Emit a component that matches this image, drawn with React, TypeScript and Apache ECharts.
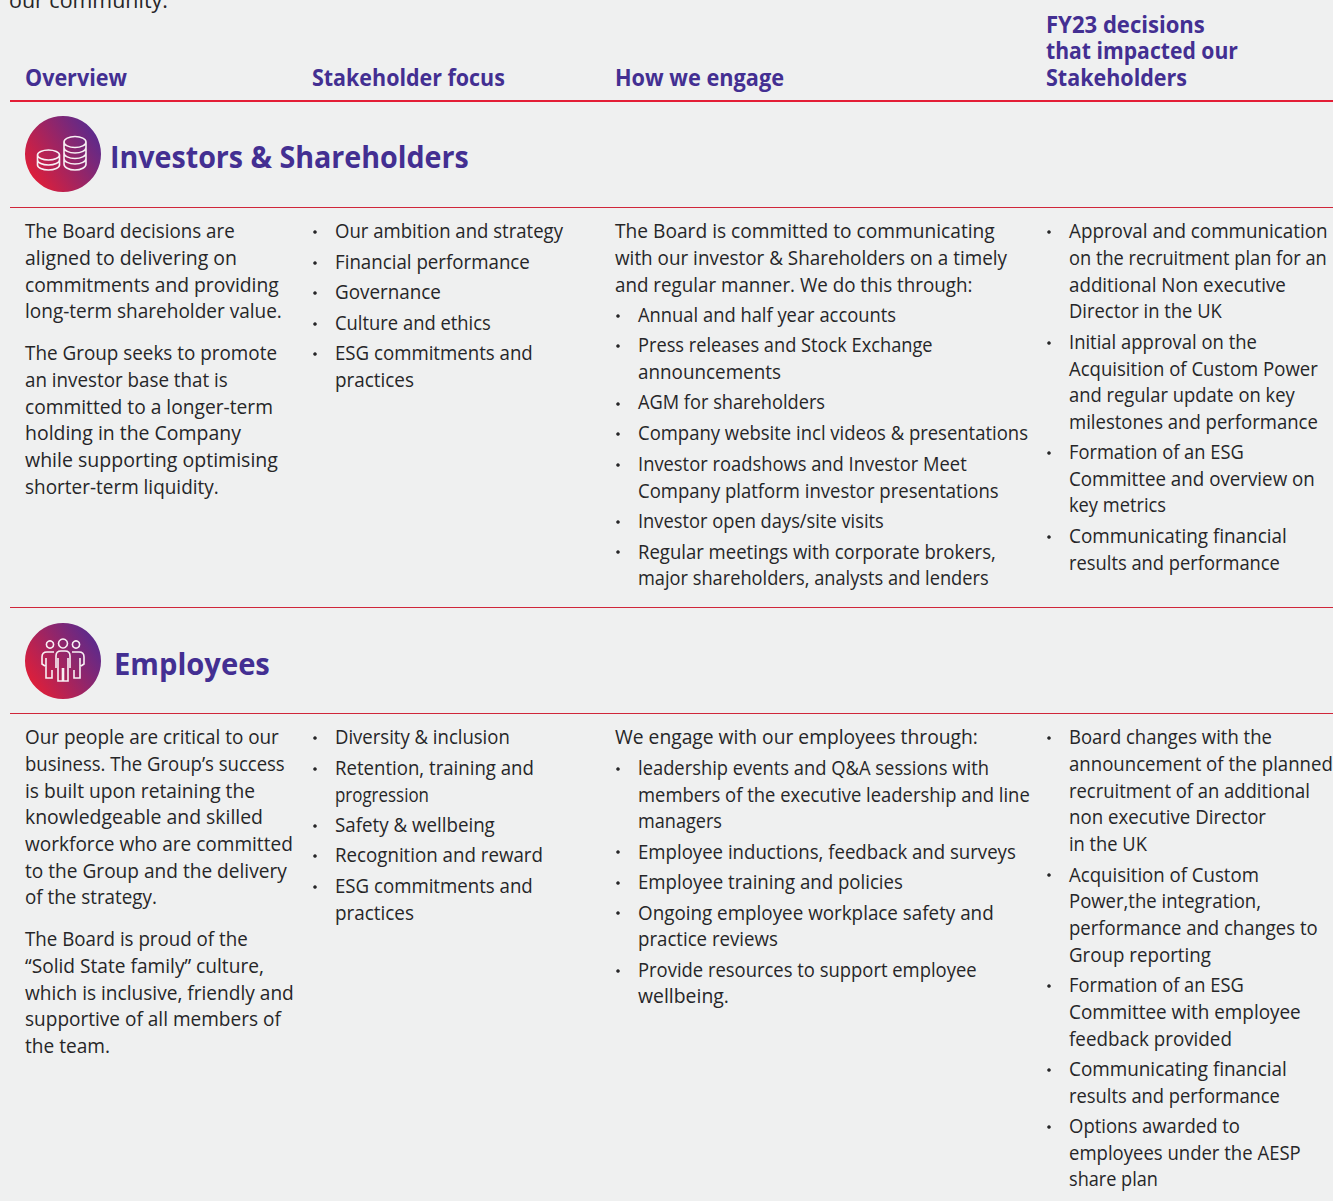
import React, { useEffect, useRef } from "react";
import * as echarts from "echarts";

const introFragment = "our community.";
const columnHeaders = [["Overview"], ["Stakeholder focus"], ["How we engage"], ["FY23 decisions", "that impacted our", "Stakeholders"]];
const sectionTitles = ["Investors & Shareholders", "Employees"];

const investorsOverview = [
  ["The Board decisions are", "aligned to delivering on", "commitments and providing", "long-term shareholder value."],
  ["The Group seeks to promote", "an investor base that is", "committed to a longer-term", "holding in the Company", "while supporting optimising", "shorter-term liquidity."],
];
const investorsFocus = [["Our ambition and strategy"], ["Financial performance"], ["Governance"], ["Culture and ethics"], ["ESG commitments and", "practices"]];
const investorsEngageIntro = ["The Board is committed to communicating", "with our investor & Shareholders on a timely", "and regular manner. We do this through:"];
const investorsEngage = [
  ["Annual and half year accounts"],
  ["Press releases and Stock Exchange", "announcements"],
  ["AGM for shareholders"],
  ["Company website incl videos & presentations"],
  ["Investor roadshows and Investor Meet", "Company platform investor presentations"],
  ["Investor open days/site visits"],
  ["Regular meetings with corporate brokers,", "major shareholders, analysts and lenders"],
];
const investorsDecisions = [
  ["Approval and communication", "on the recruitment plan for an", "additional Non executive", "Director in the UK"],
  ["Initial approval on the", "Acquisition of Custom Power", "and regular update on key", "milestones and performance"],
  ["Formation of an ESG", "Committee and overview on", "key metrics"],
  ["Communicating financial", "results and performance"],
];

const employeesOverview = [
  ["Our people are critical to our", "business. The Group\u2019s success", "is built upon retaining the", "knowledgeable and skilled", "workforce who are committed", "to the Group and the delivery", "of the strategy."],
  ["The Board is proud of the", "\u201CSolid State family\u201D culture,", "which is inclusive, friendly and", "supportive of all members of", "the team."],
];
const employeesFocus = [["Diversity & inclusion"], ["Retention, training and", "progression"], ["Safety & wellbeing"], ["Recognition and reward"], ["ESG commitments and", "practices"]];
const employeesEngageIntro = ["We engage with our employees through:"];
const employeesEngage = [
  ["leadership events and Q&A sessions with", "members of the executive leadership and line", "managers"],
  ["Employee inductions, feedback and surveys"],
  ["Employee training and policies"],
  ["Ongoing employee workplace safety and", "practice reviews"],
  ["Provide resources to support employee", "wellbeing."],
];
const employeesDecisions = [
  ["Board changes with the", "announcement of the planned", "recruitment of an additional", "non executive Director", "in the UK"],
  ["Acquisition of Custom", "Power,the integration,", "performance and changes to", "Group reporting"],
  ["Formation of an ESG", "Committee with employee", "feedback provided"],
  ["Communicating financial", "results and performance"],
  ["Options awarded to", "employees under the AESP", "share plan"],
];

// Layout: right edge of each typeset line, so the narrower reference face can be fitted.
const RIGHT_EDGE: Record<string, number> = {
  "our community.": 168,
  "Overview": 127, "Stakeholder focus": 505, "How we engage": 784, "FY23 decisions": 1205, "that impacted our": 1238, "Stakeholders": 1187,
  "Investors & Shareholders": 469, "Employees": 270,
  "The Board decisions are": 235, "aligned to delivering on": 237, "commitments and providing": 279, "long-term shareholder value.": 282,
  "The Group seeks to promote": 277, "an investor base that is": 228, "committed to a longer-term": 273, "holding in the Company": 241,
  "while supporting optimising": 278, "shorter-term liquidity.": 219,
  "Our ambition and strategy": 563, "Financial performance": 530, "Governance": 441, "Culture and ethics": 491, "ESG commitments and": 533, "practices": 414,
  "The Board is committed to communicating": 995, "with our investor & Shareholders on a timely": 1007, "and regular manner. We do this through:": 973,
  "Annual and half year accounts": 896, "Press releases and Stock Exchange": 933, "announcements": 781, "AGM for shareholders": 825,
  "Company website incl videos & presentations": 1028, "Investor roadshows and Investor Meet": 967, "Company platform investor presentations": 999,
  "Investor open days/site visits": 884, "Regular meetings with corporate brokers,": 996, "major shareholders, analysts and lenders": 989,
  "Approval and communication": 1328, "on the recruitment plan for an": 1327, "additional Non executive": 1286, "Director in the UK": 1222,
  "Initial approval on the": 1257, "Acquisition of Custom Power": 1318, "and regular update on key": 1295, "milestones and performance": 1318,
  "Formation of an ESG": 1244, "Committee and overview on": 1315, "key metrics": 1166, "Communicating financial": 1287, "results and performance": 1280,
  "Our people are critical to our": 279, "business. The Group\u2019s success": 285, "is built upon retaining the": 255, "knowledgeable and skilled": 263,
  "workforce who are committed": 293, "to the Group and the delivery": 287, "of the strategy.": 157, "The Board is proud of the": 248,
  "\u201CSolid State family\u201D culture,": 264, "which is inclusive, friendly and": 294, "supportive of all members of": 281, "the team.": 110,
  "Diversity & inclusion": 510, "Retention, training and": 534, "progression": 429, "Safety & wellbeing": 495, "Recognition and reward": 543,
  "We engage with our employees through:": 978, "leadership events and Q&A sessions with": 989, "members of the executive leadership and line": 1030, "managers": 722,
  "Employee inductions, feedback and surveys": 1016, "Employee training and policies": 903, "Ongoing employee workplace safety and": 994, "practice reviews": 778,
  "Provide resources to support employee": 977, "wellbeing.": 729,
  "Board changes with the": 1272, "announcement of the planned": 1333, "recruitment of an additional": 1310, "non executive Director": 1266, "in the UK": 1147,
  "Acquisition of Custom": 1259, "Power,the integration,": 1261, "performance and changes to": 1318, "Group reporting": 1211,
  "Committee with employee": 1301, "feedback provided": 1232, "Options awarded to": 1240, "employees under the AESP": 1301, "share plan": 1158,
};

const COINS =
  "M37.5 155a11 5 0 1 0 22 0a11 5 0 1 0-22 0M37.5 155v10a11 5 0 0 0 22 0v-10M37.5 160a11 5 0 0 0 22 0" +
  "M64 142a11 5.5 0 1 0 22 0a11 5.5 0 1 0-22 0M64 142v22a11 6 0 0 0 22 0v-22M64 147.5a11 5.5 0 0 0 22 0M64 153a11 5.5 0 0 0 22 0M64 158.5a11 5.5 0 0 0 22 0";
const PEOPLE =
  "M56 668V656Q56 651 61 651H65Q70 651 70 656V668M58 658V681H62.5V668M63.5 668V681H68V658" +
  "M54 652H47Q42 652 42 657V664L45 666M46 658V678H52V670M72 652H79Q84 652 84 657V664L81 666M80 658V678H74V670";
echarts.graphic.registerShape("coins", echarts.graphic.extendPath(COINS, {}));
echarts.graphic.registerShape("people", echarts.graphic.extendPath(PEOPLE, {}));

const PURPLE = "#432f92";
const INK = "#262628";
const RED = "#d0263a";
const FONT = '"Open Sans"';
const BODY = 20;
const LINE = 26.7;
const ITEM = 30.5;
const PARA = 42;
const TEXT_DY = -0.5;

const ctx = document.createElement("canvas").getContext("2d")!;
function fit(x: number, text: string, font: string, fallback: number) {
  const right = RIGHT_EDGE[text];
  if (!right) return fallback;
  ctx.font = font;
  return (right - x) / ctx.measureText(text).width;
}

function line(x: number, y: number, text: string) {
  return { type: "text", x, y, scaleX: fit(x, text, `${BODY}px ${FONT}`, 0.93), silent: true, style: { text, fill: INK, fontFamily: FONT, fontSize: BODY, verticalAlign: "middle", align: "left" } };
}
function heading(x: number, y: number, text: string, size: number) {
  return { type: "text", x, y, scaleX: fit(x, text, `700 ${size}px ${FONT}`, 0.93), silent: true, style: { text, fill: PURPLE, fontFamily: FONT, fontWeight: 700, fontSize: size, verticalAlign: "middle", align: "left" } };
}
function paragraphs(x: number, y0: number, paras: string[][]) {
  const out: any[] = [];
  let y = y0;
  paras.forEach((p, i) => {
    p.forEach((t, j) => {
      out.push(line(x, y + TEXT_DY, t));
      if (j < p.length - 1) y += LINE;
    });
    if (i < paras.length - 1) y += PARA;
  });
  return { els: out, y };
}
function bullets(bx: number, x: number, y0: number, items: string[][]) {
  const out: any[] = [];
  let y = y0;
  items.forEach((p, i) => {
    out.push({ type: "circle", silent: true, shape: { cx: bx, cy: Math.round(y + 1), r: 1.8 }, style: { fill: INK } });
    p.forEach((t, j) => {
      out.push(line(x, y + TEXT_DY, t));
      if (j < p.length - 1) y += LINE;
    });
    if (i < items.length - 1) y += ITEM;
  });
  return out;
}
function rule(y: number, w: number, color: string) {
  return { type: "line", silent: true, shape: { x1: 10, y1: y, x2: 1333, y2: y }, style: { stroke: color, lineWidth: w } };
}
function badge(cy: number) {
  return {
    type: "circle",
    silent: true,
    shape: { cx: 63, cy, r: 38 },
    style: {
      fill: new echarts.graphic.LinearGradient(0.1, 0.8, 0.95, 0.25, [
        { offset: 0, color: "#dc1f3b" },
        { offset: 1, color: "#5c2a8c" },
      ]),
    },
  };
}
function section(dy: number, overview: string[][], focus: string[][], intro: string[], engage: string[][], decisions: string[][]) {
  const top = 231 + dy;
  const introBlock = paragraphs(615, top, [intro]);
  return [
    ...paragraphs(25, top, overview).els,
    ...bullets(315, 335, top, focus),
    ...introBlock.els,
    ...bullets(618, 638, introBlock.y + ITEM, engage),
    ...bullets(1049, 1069, top, decisions),
  ];
}

function buildElements() {
  const headerX = [25, 312, 615, 1046];
  const els: any[] = [];
  els.push({ ...line(9, -1, introFragment), scaleX: fit(9, introFragment, `22.5px ${FONT}`, 1), style: { text: introFragment, fill: INK, fontFamily: FONT, fontSize: 22.5, verticalAlign: "middle" } });
  columnHeaders.forEach((h, c) => {
    h.forEach((t, i) => els.push(heading(headerX[c], 77 - (h.length - 1 - i) * 26.5, t, 22.5)));
  });
  els.push(rule(101, 2, "#e31e36"), rule(207.5, 1, RED), rule(607.5, 1, RED), rule(713.5, 1, RED));
  els.push(badge(154), badge(661));
  const icon = { fill: "none", stroke: "#f8f0f4", lineWidth: 1.6 };
  els.push({ type: "coins", silent: true, style: icon });
  els.push({ type: "people", silent: true, style: icon });
  [[50, 644.5, 3.6], [63, 643.5, 4.5], [76, 644.5, 3.6]].forEach(([cx, cy, r]) =>
    els.push({ type: "circle", silent: true, shape: { cx, cy, r }, style: icon })
  );
  els.push(heading(110, 156, sectionTitles[0], 31));
  els.push(heading(114, 663, sectionTitles[1], 31));
  els.push(...section(0, investorsOverview, investorsFocus, investorsEngageIntro, investorsEngage, investorsDecisions));
  els.push(...section(506, employeesOverview, employeesFocus, employeesEngageIntro, employeesEngage, employeesDecisions));
  return els;
}

export default function App() {
  const ref = useRef<HTMLDivElement>(null);
  useEffect(() => {
    document.body.style.margin = "0";
    document.body.style.background = "#eff0f0";
    const chart = echarts.init(ref.current!, undefined, { renderer: "svg" });
    chart.setOption({ animation: false, backgroundColor: "#eff0f0", graphic: { elements: buildElements() } });
    return () => chart.dispose();
  }, []);
  return <div ref={ref} style={{ width: 1333, height: 1201, overflow: "hidden" }} />;
}
